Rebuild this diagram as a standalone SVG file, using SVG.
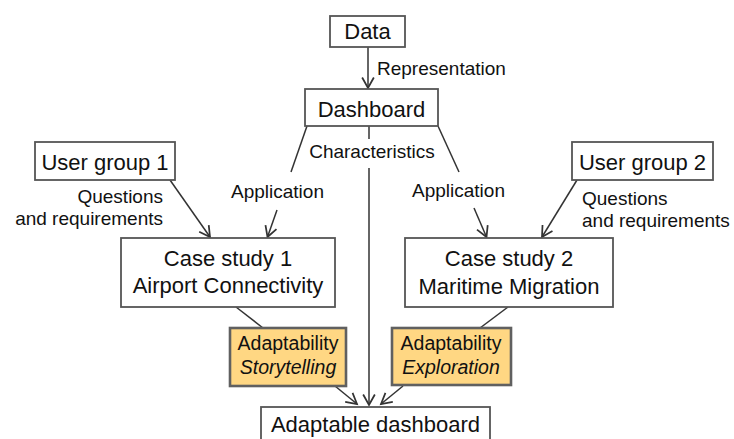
<svg xmlns="http://www.w3.org/2000/svg" width="734" height="439" viewBox="0 0 734 439">
  <style>
    .box { fill: #ffffff; stroke: #555555; stroke-width: 1.8; }
    .hl { fill: #ffd783; stroke: #606060; stroke-width: 2.6; }
    .node { font-family: "Liberation Sans", Arial, sans-serif; font-size: 22px; fill: #111111; text-anchor: middle; }
    .hltxt { font-family: "Liberation Sans", Arial, sans-serif; font-size: 19.5px; fill: #111111; text-anchor: middle; }
    .lbl { font-family: "Liberation Sans", Arial, sans-serif; font-size: 19px; fill: #111111; }
    .edge { fill: none; stroke: #333333; stroke-width: 1.5; }
  </style>
  <defs>
    <marker id="arrow" markerUnits="userSpaceOnUse" markerWidth="14" markerHeight="14" viewBox="-10 -6 12 12" refX="0" refY="0" orient="auto">
      <path d="M-9,-5 L0,0 L-9,5" fill="none" stroke="#333333" stroke-width="1.5"/>
    </marker>
  </defs>

  <!-- connectors -->
  <g id="connectors">
    <line class="edge" x1="368" y1="47" x2="368" y2="88" marker-end="url(#arrow)"/>
    <line class="edge" x1="307" y1="126" x2="291" y2="172"/>
    <line class="edge" x1="277" y1="210" x2="267.5" y2="237" marker-end="url(#arrow)"/>
    <line class="edge" x1="438" y1="126" x2="459" y2="172"/>
    <line class="edge" x1="474" y1="208" x2="486.5" y2="237" marker-end="url(#arrow)"/>
    <line class="edge" x1="170" y1="180" x2="210" y2="237" marker-end="url(#arrow)"/>
    <line class="edge" x1="577" y1="180" x2="542" y2="237" marker-end="url(#arrow)"/>
    <line class="edge" x1="369" y1="126" x2="369" y2="139"/>
    <line class="edge" x1="369" y1="168" x2="369" y2="405" marker-end="url(#arrow)"/>
    <line class="edge" x1="236" y1="307" x2="263" y2="328"/>
    <line class="edge" x1="335" y1="386" x2="357" y2="404" marker-end="url(#arrow)"/>
    <line class="edge" x1="508" y1="307" x2="480" y2="328"/>
    <line class="edge" x1="403" y1="386" x2="381" y2="404" marker-end="url(#arrow)"/>
  </g>

  <!-- edge labels -->
  <g id="labels">
    <text class="lbl" x="377" y="75">Representation</text>
    <text class="lbl" x="372" y="158" text-anchor="middle">Characteristics</text>
    <text class="lbl" x="277.5" y="198" text-anchor="middle">Application</text>
    <text class="lbl" x="458.5" y="197" text-anchor="middle">Application</text>
    <text class="lbl" x="163" y="203" text-anchor="end">Questions</text>
    <text class="lbl" x="163" y="224.5" text-anchor="end">and requirements</text>
    <text class="lbl" x="582" y="205">Questions</text>
    <text class="lbl" x="582" y="226.5">and requirements</text>
  </g>

  <g id="data">
    <rect class="box" x="330" y="16" width="75" height="31"/>
    <text class="node" x="367.5" y="39">Data</text>
  </g>

  <g id="dashboard">
    <rect class="box" x="305" y="89" width="133" height="37"/>
    <text class="node" x="371.5" y="117">Dashboard</text>
  </g>

  <g id="user-group-1">
    <rect class="box" x="35" y="142" width="140" height="38"/>
    <text class="node" x="105" y="170">User group 1</text>
  </g>

  <g id="user-group-2">
    <rect class="box" x="572" y="142" width="141" height="38"/>
    <text class="node" x="642.5" y="170">User group 2</text>
  </g>

  <g id="case-study-1">
    <rect class="box" x="121" y="238" width="214" height="69"/>
    <text class="node" x="228" y="266">Case study 1</text>
    <text class="node" x="228" y="293">Airport Connectivity</text>
  </g>

  <g id="case-study-2">
    <rect class="box" x="405" y="238" width="208" height="69"/>
    <text class="node" x="509" y="266">Case study 2</text>
    <text class="node" x="509" y="294">Maritime Migration</text>
  </g>

  <g id="adaptability-storytelling">
    <rect class="hl" x="230" y="328" width="116" height="58"/>
    <text class="hltxt" x="288" y="350">Adaptability</text>
    <text class="hltxt" x="288" y="374" font-style="italic">Storytelling</text>
  </g>

  <g id="adaptability-exploration">
    <rect class="hl" x="392" y="328" width="119" height="57"/>
    <text class="hltxt" x="451" y="350">Adaptability</text>
    <text class="hltxt" x="451" y="374" font-style="italic">Exploration</text>
  </g>

  <g id="adaptable-dashboard">
    <rect class="box" x="261" y="407" width="229" height="40"/>
    <text class="node" x="375.5" y="432">Adaptable dashboard</text>
  </g>
</svg>
